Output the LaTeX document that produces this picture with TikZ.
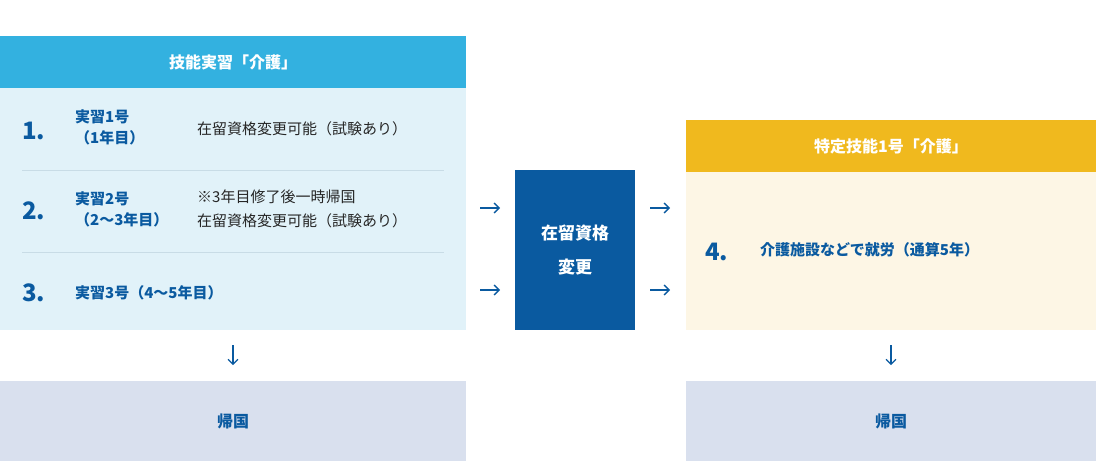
\documentclass[tikz,border=0pt]{standalone}
\usepackage{fontspec}
\setmainfont{Noto Sans CJK JP}
\newfontfamily\numfont{Noto Sans CJK JP}
\usetikzlibrary{positioning, arrows.meta}
\definecolor{headblue}{HTML}{33B1E0}
\definecolor{bodyblue}{HTML}{E1F2F9}
\definecolor{deepblue}{HTML}{0A5AA0}
\definecolor{headyellow}{HTML}{F0B91E}
\definecolor{bodyyellow}{HTML}{FDF6E5}
\definecolor{backgray}{HTML}{D9E0EE}
\definecolor{sepgray}{HTML}{C8DCE6}
\tikzstyle{head} = [rectangle, inner sep=0, text=white, font=\fontsize{16}{16}\selectfont\bfseries]
\tikzstyle{panel} = [rectangle, inner sep=0]
\tikzstyle{num} = [anchor=west, inner sep=0, text=deepblue, font=\fontsize{24}{24}\selectfont\bfseries]
\tikzstyle{stage} = [anchor=west, inner sep=0, text=deepblue, align=left, font=\fontsize{15}{21}\selectfont\bfseries]
\tikzstyle{note} = [anchor=west, inner sep=0, text=black!85, align=left, font=\fontsize{15}{24}\selectfont]
\tikzstyle{arrow} = [deepblue, line width=1.3pt, -{Straight Barb[length=5pt,width=10pt]}]

\begin{document}
\begin{tikzpicture}[x=1pt, y=-1pt]
\useasboundingbox (0,0) rectangle (1102,461);

% left block
\node (tihead) [head, fill=headblue, minimum width=466pt, minimum height=52pt] at (233,62) {技能実習「介護」};
\node (tibody) [panel, fill=bodyblue, minimum width=466pt, minimum height=242pt] at (233,209) {};
\draw [sepgray, line width=0.6pt] (22,170) -- (444,170);
\draw [sepgray, line width=0.6pt] (22,252) -- (444,252);

\node (n1) [num] at (22,131) {1.};
\node (s1) [stage] at (75,127) {実習1号\\（1年目）};
\node (t1) [note] at (197,129) {在留資格変更可能（試験あり）};
\node (n2) [num] at (22,211) {2.};
\node (s2) [stage] at (75,209) {実習2号\\（2～3年目）};
\node (t2) [note] at (197,209) {※3年目修了後一時帰国\\在留資格変更可能（試験あり）};
\node (n3) [num] at (22,293) {3.};
\node (s3) [stage] at (75,293) {実習3号（4～5年目）};

\node (home1) [head, text=deepblue, fill=backgray, minimum width=466pt, minimum height=80pt] at (233,421) {帰国};

% middle
\node (change) [head, fill=deepblue, align=center, minimum width=120pt, minimum height=160pt, font=\fontsize{17}{34}\selectfont\bfseries] at (575,250) {在留資格\\変更};

% right block
\node (sghead) [head, fill=headyellow, minimum width=410pt, minimum height=52pt] at (891,146) {特定技能1号「介護」};
\node (sgbody) [panel, fill=bodyyellow, minimum width=410pt, minimum height=158pt] at (891,251) {};
\node (n4) [num] at (705,252) {4.};
\node (t4) [stage] at (760,250) {介護施設などで就労（通算5年）};

\node (home2) [head, text=deepblue, fill=backgray, minimum width=410pt, minimum height=80pt] at (891,421) {帰国};

% arrows
\coordinate (a1) at (480,208);
\coordinate (a2) at (480,290);
\coordinate (b1) at (650,208);
\coordinate (b2) at (650,290);
\draw [arrow] (a1) -- ++(20,0);
\draw [arrow] (a2) -- ++(20,0);
\draw [arrow] (b1) -- ++(20,0);
\draw [arrow] (b2) -- ++(20,0);
\draw [arrow] ([yshift=-15pt]tibody.south) -- ([yshift=-35pt]tibody.south);
\draw [arrow] ([yshift=-15pt]sgbody.south) -- ([yshift=-35pt]sgbody.south);

\end{tikzpicture}
\end{document}
